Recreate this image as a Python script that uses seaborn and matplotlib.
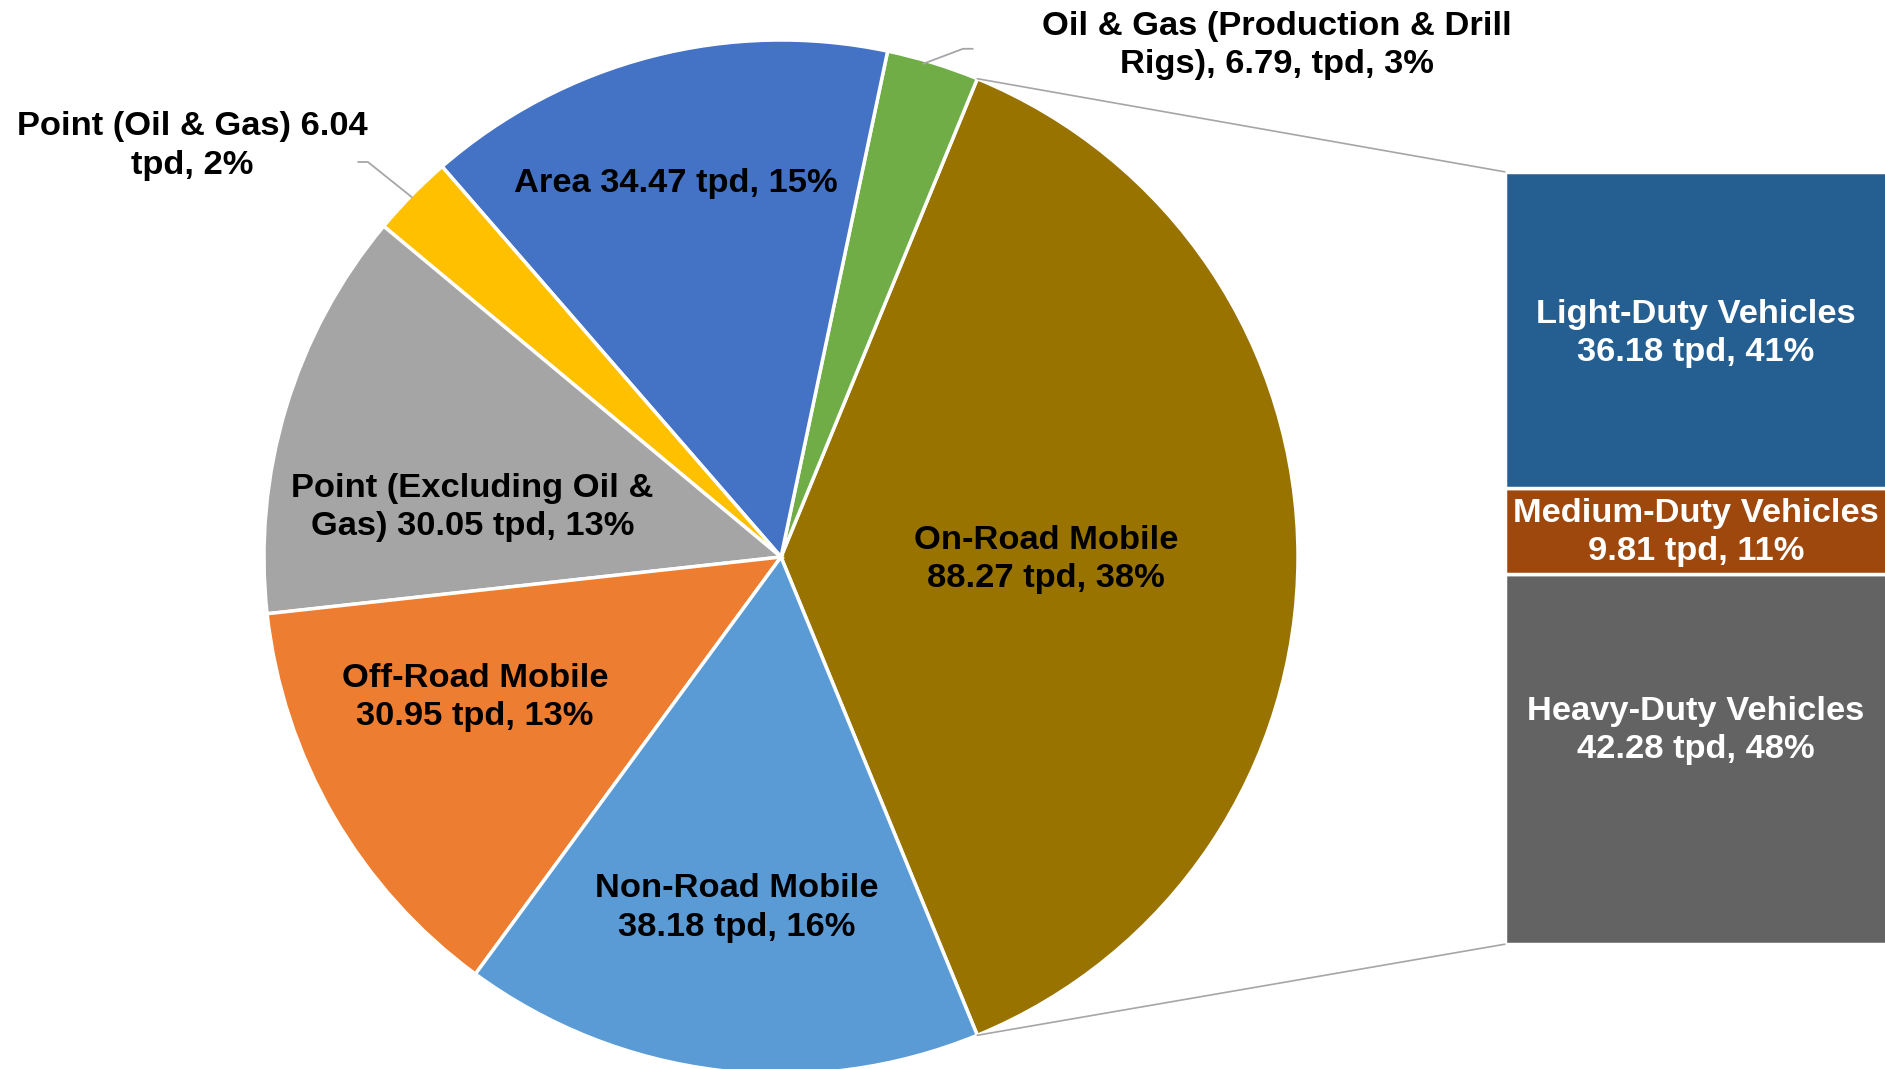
import numpy as np
import seaborn as sns
import matplotlib.pyplot as plt

sns.set_style("white")
plt.rcParams['font.family'] = ['Liberation Sans', 'DejaVu Sans']
plt.rcParams['font.weight'] = 'bold'

# pie data (counter-clockwise from the On-Road wedge)
sources = ['On-Road Mobile', 'Oil & Gas (Production & Drill Rigs)', 'Area',
           'Point (Oil & Gas)', 'Point (Excluding Oil & Gas)',
           'Off-Road Mobile', 'Non-Road Mobile']
tpd = [88.27, 6.79, 34.47, 6.04, 30.05, 30.95, 38.18]
pct = [38, 3, 15, 2, 13, 13, 16]
labels = ['On-Road Mobile\n88.27 tpd, 38%',
          'Oil & Gas (Production & Drill\nRigs), 6.79, tpd, 3%',
          'Area 34.47 tpd, 15%',
          'Point (Oil & Gas) 6.04\ntpd, 2%',
          'Point (Excluding Oil &\nGas) 30.05 tpd, 13%',
          'Off-Road Mobile\n30.95 tpd, 13%',
          'Non-Road Mobile\n38.18 tpd, 16%']
pie_colors = ['#997300', '#70AD47', '#4472C4', '#FFC000', '#A5A5A5', '#ED7D31', '#5B9BD5']

# breakdown of On-Road Mobile (bottom to top)
vehicles = ['Heavy-Duty Vehicles', 'Medium-Duty Vehicles', 'Light-Duty Vehicles']
veh_tpd = [42.28, 9.81, 36.18]
veh_pct = [48, 11, 41]
veh_colors = ['#636363', '#9E480E', '#255E91']

# label anchor spots (pie units)
label_pos = [(0.512, -0.005), (0.959, 0.990), (-0.203, 0.723), (-1.139, 0.795),
             (-0.597, 0.096), (-0.592, -0.272), (-0.085, -0.679)]
veh_label_shift = [0.056, -0.002, -0.006]

fig = plt.figure(figsize=(18.85, 10.69), dpi=100)
ax = fig.add_axes([0, 0, 1, 1])

total = sum(tpd)
start = -tpd[0] / total * 180
wedges, _ = ax.pie(tpd, colors=pie_colors, startangle=start, counterclock=True,
                   wedgeprops=dict(edgecolor='white', linewidth=2.5))

fs = 24.8
ls = 1.3
for lab, (x, y) in zip(labels, label_pos):
    ax.text(x, y, lab, ha='center', va='center', fontsize=fs, fontweight='bold',
            color='black', linespacing=ls)

# leader lines
ax.plot([-0.818, -0.799, -0.714], [0.764, 0.764, 0.696], color='#A6A6A6', lw=1.3)
ax.plot([0.371, 0.352, 0.275], [0.983, 0.983, 0.954], color='#A6A6A6', lw=1.3)

# stacked bar of On-Road Mobile
bar_left, bar_right = 1.400, 2.14
bar_bottom, bar_top = -0.749, 0.745
scale = (bar_top - bar_bottom) / sum(veh_tpd)
bottom = bar_bottom
for name, v, p, c, dy in zip(vehicles, veh_tpd, veh_pct, veh_colors, veh_label_shift):
    h = v * scale
    ax.bar((bar_left + bar_right) / 2, h, bottom=bottom, width=bar_right - bar_left,
           color=c, edgecolor='white', linewidth=2.5)
    ax.text((bar_left + 2.1354) / 2 + 0.002, bottom + h / 2 + dy, f'{name}\n{v:.2f} tpd, {p}%',
            ha='center', va='center', fontsize=fs, fontweight='bold', color='white',
            linespacing=ls)
    bottom += h

# connector lines from the On-Road wedge to the bar
theta = np.deg2rad(tpd[0] / total * 180)
ax.plot([np.cos(theta), bar_left], [np.sin(theta), bar_top], color='#A6A6A6', lw=1.2)
ax.plot([np.cos(theta), bar_left], [-np.sin(theta), bar_bottom], color='#A6A6A6', lw=1.2)

ax.set_aspect('auto')
ax.set_xlim(-781 / 517, (1885 - 781) / 517)
ax.set_ylim(-(1069 - 557) / 517, 557 / 517)
ax.axis('off')

fig.savefig('out.png', dpi=100)
